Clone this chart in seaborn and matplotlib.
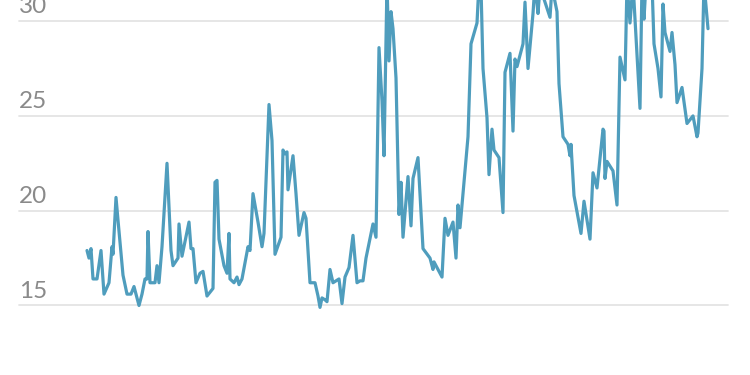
import matplotlib
matplotlib.use("Agg")
import matplotlib.pyplot as plt
import seaborn as sns
import pandas as pd

# months since start of series
months = [0, 2, 4, 6, 10, 14, 17, 22, 25, 26, 29, 31, 36, 40, 44, 47, 52, 55, 58, 60,
          61, 63, 68, 70, 72, 75, 80, 84, 86, 91, 92, 95, 102, 104, 106, 109, 113, 116, 120, 126,
          128, 130, 132, 137, 140, 142, 143, 147, 150, 152, 155, 161, 163, 166, 171, 175, 177, 182, 185, 188,
          194, 196, 198, 200, 201, 206, 209, 212, 217, 219, 223, 228, 231, 233, 235, 238, 240, 243, 246, 249,
          252, 255, 258, 262, 266, 270, 273, 276, 279, 286, 289, 292, 295, 297, 300, 302, 304, 306, 309, 312,
          314, 316, 321, 324, 326, 331, 336, 343, 346, 347, 355, 358, 361, 366, 369, 371, 373, 381, 384, 390,
          392, 394, 396, 400, 402, 405, 407, 412, 416, 418, 423, 426, 428, 430, 436, 438, 441, 446, 448, 451,
          453, 463, 465, 470, 472, 476, 481, 483, 484, 487, 494, 497, 503, 506, 510, 516, 517, 518, 520, 526,
          530, 533, 538, 540, 543, 546, 553, 555, 557, 559, 565, 567, 571, 574, 576, 578, 583, 585, 588, 590,
          595, 600, 606, 610, 611, 615, 617, 621]
values = [17.9, 17.5, 18.0, 16.4, 16.4, 17.9, 15.6, 16.2, 18.1, 17.7, 20.7, 19.5, 16.6, 15.6, 15.6, 16.0, 15.0, 15.6, 16.4, 16.4,
          18.9, 16.2, 16.2, 17.1, 16.2, 18.1, 22.5, 17.9, 17.1, 17.5, 19.3, 17.6, 19.4, 18.0, 18.0, 16.2, 16.7, 16.8, 15.5, 15.9,
          21.5, 21.6, 18.5, 17.1, 16.7, 18.8, 16.4, 16.2, 16.5, 16.1, 16.4, 18.1, 17.9, 20.9, 19.4, 18.1, 18.8, 25.6, 23.7, 17.7,
          18.6, 23.2, 23.0, 23.1, 21.1, 22.9, 20.9, 18.7, 19.9, 19.6, 16.2, 16.2, 15.5, 14.9, 15.4, 15.3, 15.2, 16.9, 16.2, 16.3,
          16.4, 15.1, 16.5, 17.0, 18.7, 16.2, 16.3, 16.3, 17.5, 19.3, 18.6, 28.6, 25.8, 22.9, 32.0, 27.9, 30.5, 29.6, 27.0, 19.8,
          21.5, 18.6, 21.8, 19.2, 21.7, 22.8, 18.0, 17.5, 16.9, 17.3, 16.5, 19.6, 18.7, 19.4, 17.5, 20.3, 19.1, 23.9, 28.8, 29.9,
          32.0, 31.8, 27.5, 24.9, 21.9, 24.3, 23.2, 22.8, 19.9, 27.3, 28.3, 24.2, 28.0, 27.6, 28.8, 31.0, 27.5, 30.4, 32.0, 30.4,
          31.8, 30.2, 31.8, 30.5, 26.7, 23.9, 23.5, 22.9, 23.5, 20.8, 18.8, 20.5, 18.5, 22.0, 21.2, 24.3, 24.2, 21.7, 22.6, 22.1,
          20.3, 28.1, 26.9, 32.0, 29.9, 32.0, 25.4, 32.0, 30.1, 32.0, 32.0, 28.8, 27.5, 26.0, 30.9, 29.4, 28.4, 29.4, 27.7, 25.7,
          26.5, 24.6, 25.0, 23.9, 24.1, 27.5, 32.0, 29.6]
y_ticks = [10, 15, 20, 25, 30]
y_tick_labels = ["10", "15", "20", "25", "30"]

df = pd.DataFrame({"month": months, "value": values})

sns.set_theme(style="white")
plt.rcParams["font.family"] = ["Lato", "DejaVu Sans"]

fig = plt.figure(figsize=(7.5, 3.75), dpi=100)
ax = fig.add_axes([0, 0, 1, 1])

for t in y_ticks:
    ax.axhline(t, xmin=0.0253, xmax=0.971, color="#e4e4e4", lw=1.3, zorder=1)

sns.lineplot(data=df, x="month", y="value", sort=False, color="#4f9dbd",
             lw=2.3, ax=ax, zorder=3)

for t, lab in zip(y_ticks, y_tick_labels):
    ax.text(0.0253, t + 0.42, lab, transform=ax.get_yaxis_transform(),
            ha="left", va="baseline", fontsize=17.5, color="#8a8a8a")

ax.set_xlim(-87, 663)
ax.set_ylim(11.334, 31.113)
ax.set_xlabel("")
ax.set_ylabel("")
ax.set_xticks([])
ax.set_yticks([])
for s in ax.spines.values():
    s.set_visible(False)

fig.savefig("out.png", dpi=100)
